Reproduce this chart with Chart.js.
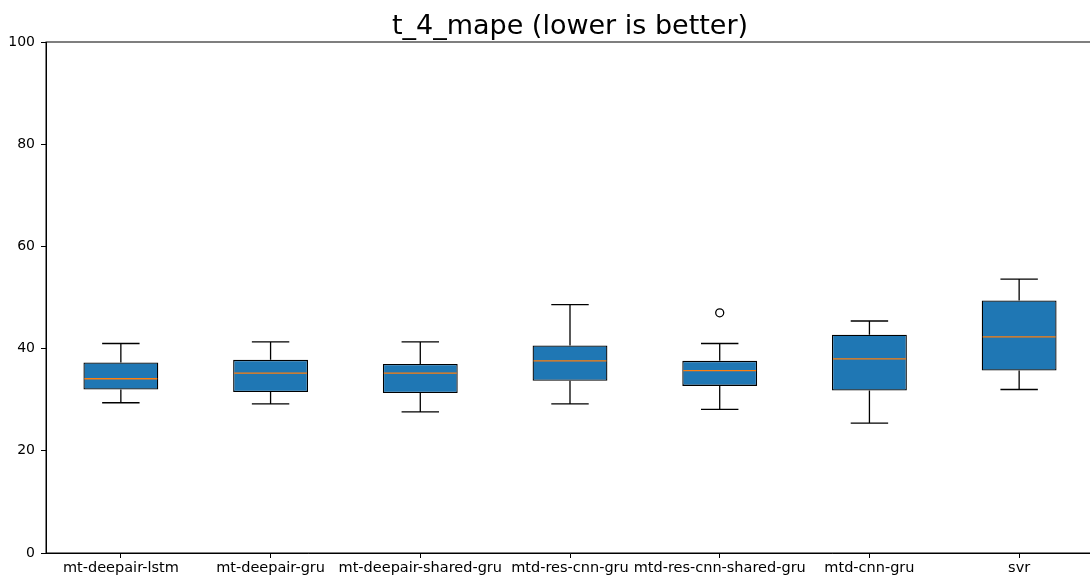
<!DOCTYPE html>
<html>
<head>
<meta charset="utf-8">
<script src="https://cdn.jsdelivr.net/npm/chart.js@4/dist/chart.umd.min.js"></script>
<style>
  body { margin: 0; overflow: hidden; background: #fff; }
  #chart_container { width: 1100px; height: 582px; }
</style>
</head>
<body>
<div id="chart_container"><canvas id="chart" width="1100" height="582"></canvas></div>
<script>
var categories = ["mt-deepair-lstm", "mt-deepair-gru", "mt-deepair-shared-gru", "mtd-res-cnn-gru", "mtd-res-cnn-shared-gru", "mtd-cnn-gru", "svr"];
var whisker_low  = [29.4, 29.2, 27.6, 29.2, 28.1, 25.4, 32.0];
var q1           = [32.0, 31.5, 31.3, 33.7, 32.7, 31.8, 35.7];
var median       = [34.1, 35.2, 35.2, 37.6, 35.7, 38.0, 42.3];
var q3           = [37.3, 37.8, 37.0, 40.6, 37.6, 42.7, 49.4];
var whisker_high = [41.0, 41.3, 41.3, 48.6, 41.0, 45.4, 53.6];
var outliers     = [null, null, null, null, 47.0, null, null];
var y_ticks      = [0, 20, 40, 60, 80, 100];
var title_text   = "t_4_mape (lower is better)";

var boxes = [];
for (var i = 0; i < categories.length; i++) {
    boxes.push([q1[i], q3[i]]);
}

// whiskers, caps, medians, frame and title drawn on top through the scales
var boxplot_extras = {
    id: "boxplot_extras",
    afterDatasetsDraw: function(chart) {
        var ctx = chart.ctx;
        var x = chart.scales.x;
        var y = chart.scales.y;
        var area = chart.chartArea;
        var slot = (area.right - area.left) / categories.length;
        var cap_half = slot * 0.125;
        var box_half = slot * 0.25;

        ctx.save();
        for (var i = 0; i < categories.length; i++) {
            var cx = x.getPixelForValue(i);

            ctx.strokeStyle = "#000";
            ctx.lineWidth = 1.3;
            ctx.beginPath();
            ctx.moveTo(cx, y.getPixelForValue(q3[i]));
            ctx.lineTo(cx, y.getPixelForValue(whisker_high[i]));
            ctx.moveTo(cx, y.getPixelForValue(q1[i]));
            ctx.lineTo(cx, y.getPixelForValue(whisker_low[i]));
            ctx.moveTo(cx - cap_half, y.getPixelForValue(whisker_high[i]));
            ctx.lineTo(cx + cap_half, y.getPixelForValue(whisker_high[i]));
            ctx.moveTo(cx - cap_half, y.getPixelForValue(whisker_low[i]));
            ctx.lineTo(cx + cap_half, y.getPixelForValue(whisker_low[i]));
            ctx.stroke();

            ctx.strokeStyle = "#ff7f0e";
            ctx.lineWidth = 1.3;
            ctx.beginPath();
            ctx.moveTo(cx - box_half + 1, y.getPixelForValue(median[i]));
            ctx.lineTo(cx + box_half - 1, y.getPixelForValue(median[i]));
            ctx.stroke();
        }

        ctx.strokeStyle = "#000";
        ctx.lineWidth = 1;
        ctx.strokeRect(area.left, area.top, area.right - area.left, area.bottom - area.top);

        ctx.fillStyle = "#000";
        ctx.font = "27px 'DejaVu Sans'";
        ctx.textAlign = "center";
        ctx.textBaseline = "alphabetic";
        ctx.fillText(title_text, (area.left + area.right) / 2, area.top - 8);
        ctx.restore();
    }
};

var chart = new Chart(document.getElementById("chart"), {
    type: "bar",
    data: {
        labels: categories,
        datasets: [
            {
                type: "line",
                label: "outliers",
                data: outliers,
                showLine: false,
                pointRadius: 4,
                pointBorderWidth: 1.3,
                pointBorderColor: "#000",
                pointBackgroundColor: "rgba(0,0,0,0)",
                order: 0
            },
            {
                label: "box",
                data: boxes,
                backgroundColor: "#1f77b4",
                borderColor: "#000",
                borderWidth: 1.3,
                borderSkipped: false,
                barPercentage: 0.5,
                categoryPercentage: 1.0,
                order: 1
            }
        ]
    },
    options: {
        responsive: false,
        animation: { duration: 0 },
        layout: { padding: { left: 0, right: 6, top: 42, bottom: 0 } },
        plugins: {
            legend: { display: false },
            tooltip: { enabled: false },
            title: { display: false }
        },
        scales: {
            x: {
                offset: true,
                grid: { display: true, drawOnChartArea: false, drawTicks: true, tickLength: 5, color: "#000", offset: false },
                border: { display: true, color: "#000" },
                ticks: { color: "#000", font: { family: "DejaVu Sans", size: 14.5 }, padding: 2, maxRotation: 0, autoSkip: false },
                afterFit: function(scale) { scale.height = 29; }
            },
            y: {
                min: 0,
                max: 100,
                afterBuildTicks: function(scale) {
                    scale.ticks = y_ticks.map(function(v) { return { value: v }; });
                },
                grid: { display: true, drawOnChartArea: false, drawTicks: true, tickLength: 5, color: "#000" },
                border: { display: true, color: "#000" },
                ticks: { color: "#000", font: { family: "DejaVu Sans", size: 14 }, padding: 6 },
                afterFit: function(scale) { scale.width = 46; }
            }
        }
    },
    plugins: [boxplot_extras]
});
</script>
</body>
</html>
